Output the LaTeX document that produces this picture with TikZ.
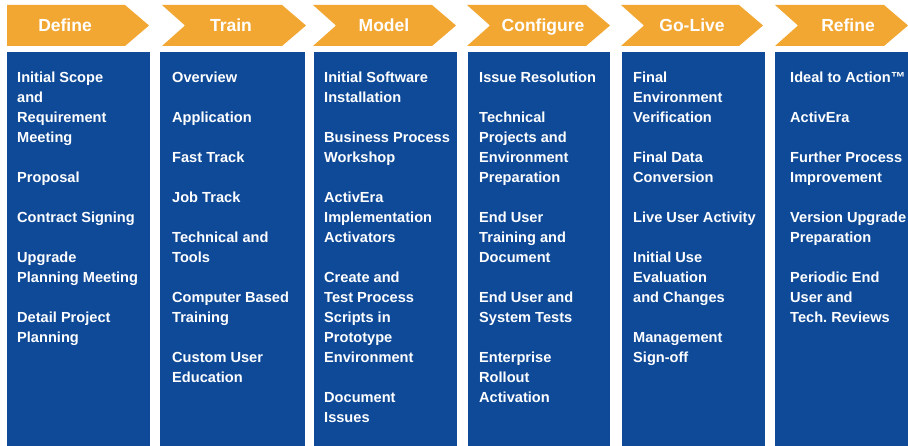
\documentclass[tikz,border=0pt]{standalone}
\usepackage{fontspec}
\setmainfont{Liberation Sans}
\frenchspacing
\definecolor{hdr}{HTML}{F2A733}
\definecolor{bodyblue}{HTML}{0F4A98}
\begin{document}
\begin{tikzpicture}[x=1pt,y=-1pt,
  hdrtext/.style={text=white,font=\bfseries\fontsize{17.5}{19}\selectfont,inner sep=0pt,text height=12.6pt,text depth=3.7pt,anchor=center},
  coltext/.style={text=white,font=\bfseries\fontsize{14.6}{20}\selectfont,inner sep=0pt,anchor=north west,align=left},
  colbox/.style={fill=bodyblue,draw=none}]
\useasboundingbox (0,0) rectangle (908,446);
\clip (0,0) rectangle (908,446);
\fill[white] (0,0) rectangle (908,446);
% headers
\fill[hdr] (7,5) -- (125,5) -- (149,25.5) -- (125,46) -- (7,46) -- cycle;
\foreach \l/\r in {162/306,313/456,467/610,621/763,775/908}{
  \fill[hdr] (\l,5) -- ({\r-24},5) -- (\r,25.5) -- ({\r-24},46) -- (\l,46) -- ({\l+23},25.5) -- cycle;
}
\node[hdrtext] (h1) at (65,27) {Define};
\node[hdrtext] (h2) at (231,27) {Train};
\node[hdrtext] (h3) at (384,27) {Model};
\node[hdrtext] (h4) at (543,27) {Configure};
\node[hdrtext] (h5) at (692,27) {Go-Live};
\node[hdrtext] (h6) at (848,27) {Refine};
% bodies
\fill[colbox] (7,52) rectangle (150,446);
\fill[colbox] (160,52) rectangle (305,446);
\fill[colbox] (314,52) rectangle (457,446);
\fill[colbox] (468,52) rectangle (610,446);
\fill[colbox] (622,52) rectangle (765,446);
\fill[colbox] (775,52) rectangle (912,446);
\node[coltext] (c1) at (17,72) {Initial Scope\\and\\Requirement\\Meeting\\[20pt]Proposal\\[20pt]Contract Signing\\[20pt]Upgrade\\Planning Meeting\\[20pt]Detail Project\\Planning};
\node[coltext] (c2) at (172,72) {Overview\\[20pt]Application\\[20pt]Fast Track\\[20pt]Job Track\\[20pt]Technical and\\Tools\\[20pt]Computer Based\\Training\\[20pt]Custom User\\Education};
\node[coltext] (c3) at (324,72) {Initial Software\\Installation\\[20pt]Business Process\\Workshop\\[20pt]ActivEra\\Implementation\\Activators\\[20pt]Create and\\Test Process\\Scripts in\\Prototype\\Environment\\[20pt]Document\\Issues};
\node[coltext] (c4) at (479,72) {Issue Resolution\\[20pt]Technical\\Projects and\\Environment\\Preparation\\[20pt]End User\\Training and\\Document\\[20pt]End User and\\System Tests\\[20pt]Enterprise\\Rollout\\Activation};
\node[coltext] (c5) at (633,72) {Final\\Environment\\Verification\\[20pt]Final Data\\Conversion\\[20pt]Live User Activity\\[20pt]Initial Use\\Evaluation\\and Changes\\[20pt]Management\\Sign-off};
\node[coltext] (c6) at (790,72) {Ideal to Action™\\[20pt]ActivEra\\[20pt]Further Process\\Improvement\\[20pt]Version Upgrade\\Preparation\\[20pt]Periodic End\\User and\\Tech. Reviews};
\end{tikzpicture}
\end{document}
